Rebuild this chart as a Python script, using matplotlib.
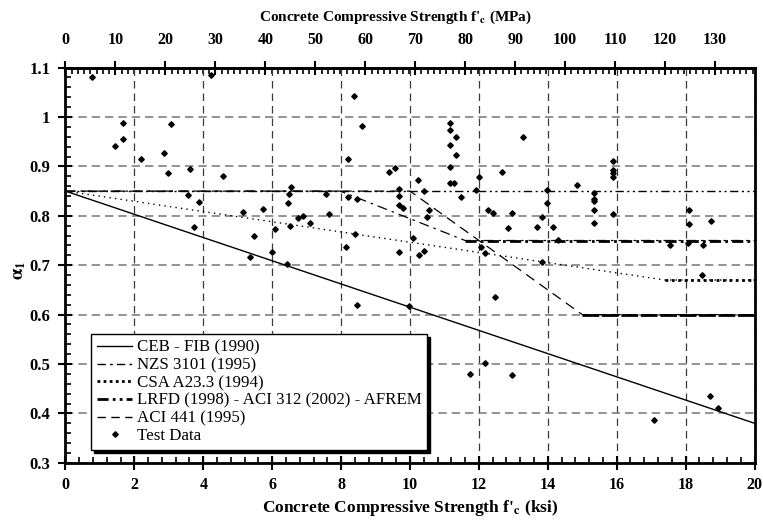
import matplotlib
matplotlib.use('Agg')
import matplotlib.pyplot as plt
from matplotlib.ticker import MultipleLocator, FuncFormatter, FixedLocator
from matplotlib.lines import Line2D

plt.rcParams['font.family'] = ['Liberation Serif', 'DejaVu Serif']
plt.rcParams['mathtext.fontset'] = 'stix'

# ---------------- data ----------------
KSI_TO_MPA = 6.895

ceb_x = [0, 20]
ceb_y = [0.85, 0.38]

nzs_x = [0, 7.98, 11.6, 20]
nzs_y = [0.85, 0.85, 0.75, 0.75]

csa_x = [0, 17.4, 20]
csa_y = [0.85, 0.67, 0.67]

lrfd_x = [0, 20]
lrfd_y = [0.85, 0.85]

aci441_x = [0, 10, 15, 20]
aci441_y = [0.85, 0.85, 0.60, 0.60]

test_fc = [0.76, 1.67, 1.67, 1.43, 2.18, 2.87, 3.05, 2.97, 3.61, 4.23, 4.57, 3.56, 3.88, 3.73,
           5.16, 5.73, 5.47, 6.07, 5.35, 5.99, 6.42, 6.55, 6.49, 6.47, 6.53, 6.76, 6.89, 7.09,
           7.55, 7.64, 8.38, 8.60, 8.20, 8.20, 8.46, 8.41, 8.14, 9.38, 9.56, 9.68, 9.68, 9.68,
           9.81, 9.69, 10.24, 10.40, 10.54, 10.50, 10.09, 10.26, 10.42, 11.17, 11.17, 11.33,
           11.17, 11.33, 11.17, 11.17, 11.28, 11.49, 11.99, 11.92, 12.27, 12.41, 12.05, 12.19,
           12.68, 12.96, 12.85, 13.27, 13.99, 13.99, 13.84, 13.69, 14.15, 14.30, 13.84, 14.84,
           15.34, 15.34, 15.34, 15.34, 15.34, 15.88, 15.88, 15.88, 15.88, 15.88, 17.54, 18.06,
           18.51, 18.09, 18.09, 18.74, 18.47, 8.45, 9.97, 12.48, 11.74, 12.18, 12.96, 17.08,
           18.71, 18.93]
test_alpha = [1.080, 0.987, 0.955, 0.941, 0.914, 0.927, 0.985, 0.886, 0.895, 1.085, 0.881, 0.842,
              0.827, 0.778, 0.807, 0.813, 0.760, 0.773, 0.716, 0.727, 0.702, 0.858, 0.845, 0.825,
              0.779, 0.795, 0.800, 0.786, 0.845, 0.803, 1.042, 0.982, 0.916, 0.839, 0.834, 0.763,
              0.737, 0.889, 0.897, 0.854, 0.841, 0.821, 0.816, 0.727, 0.872, 0.851, 0.811, 0.798,
              0.756, 0.721, 0.729, 0.987, 0.974, 0.959, 0.943, 0.924, 0.898, 0.866, 0.866, 0.838,
              0.879, 0.853, 0.811, 0.806, 0.737, 0.724, 0.889, 0.806, 0.776, 0.960, 0.853, 0.825,
              0.798, 0.777, 0.777, 0.751, 0.706, 0.862, 0.846, 0.835, 0.829, 0.812, 0.785, 0.911,
              0.893, 0.886, 0.879, 0.804, 0.741, 0.744, 0.741, 0.812, 0.783, 0.789, 0.680, 0.619,
              0.617, 0.636, 0.480, 0.502, 0.478, 0.386, 0.435, 0.410]

mpa_ticks = [0, 10, 20, 30, 40, 50, 60, 70, 80, 90, 100, 110, 120, 130]

labels = ['CEB - FIB (1990)', 'NZS 3101 (1995)', 'CSA A23.3 (1994)',
          'LRFD (1998) - ACI 312 (2002) - AFREM', 'ACI 441 (1995)', 'Test Data']

# ---------------- figure ----------------
fig = plt.figure(figsize=(7.63, 5.25), dpi=100)
ax = fig.add_axes([0.0858, 0.1185, 0.9031, 0.7527])

ax.set_xlim(0, 20)
ax.set_ylim(0.3, 1.1)

# grid
ax.xaxis.grid(True, which='major', color='#3a3a3a', lw=0.9, linestyle=(0, (6, 4)), zorder=0)
ax.yaxis.grid(True, which='major', color='#808080', lw=1.2, linestyle=(0, (5, 3)), zorder=0)

# design lines
ax.plot(lrfd_x, lrfd_y, color='k', lw=1.0, linestyle=(0, (6, 2.5, 1.5, 2.5, 1.5, 2.5)), zorder=3)
ax.plot(ceb_x, ceb_y, color='k', lw=1.0, linestyle='-', zorder=3)
ax.plot(nzs_x, nzs_y, color='k', lw=0.9, linestyle=(0, (8, 4, 2, 4)), zorder=3)
ax.plot(nzs_x[-2:], nzs_y[-2:], color='k', lw=2.0, linestyle=(0, (4, 1.5, 1, 1.5)), zorder=3)
ax.plot(csa_x, csa_y, color='k', lw=1.0, linestyle=(0, (1, 3)), zorder=3)
ax.plot(csa_x[-2:], csa_y[-2:], color='k', lw=2.0, linestyle=(0, (1, 1.3)), zorder=3)
ax.plot(aci441_x, aci441_y, color='k', lw=0.9, linestyle=(0, (8, 5)), zorder=3)
ax.plot(aci441_x[-2:], aci441_y[-2:], color='k', lw=2.0, linestyle=(0, (6, 1)), zorder=3)
ax.plot(test_fc, test_alpha, linestyle='none', marker='D', markersize=2.8,
        color='k', zorder=4)

# ticks
ax.xaxis.set_major_locator(MultipleLocator(2))
ax.xaxis.set_minor_locator(MultipleLocator(0.4))
ax.yaxis.set_major_locator(MultipleLocator(0.1))
ax.yaxis.set_minor_locator(MultipleLocator(0.02))
ax.yaxis.set_major_formatter(FuncFormatter(lambda v, p: '%g' % round(v, 2)))
ax.tick_params(which='major', direction='inout', length=10, width=1.5, labelsize=11.5,
               top=False, right=False)
ax.tick_params(which='minor', direction='in', length=4, width=1.2, top=False, right=False)
ax.tick_params(axis='x', which='major', pad=5)
ax.tick_params(axis='y', which='major', pad=6, labelsize=12)
for lab in ax.get_xticklabels() + ax.get_yticklabels():
    lab.set_fontweight('bold')

for s in ax.spines.values():
    s.set_linewidth(2.0)

sec = ax.secondary_xaxis('top', functions=(lambda k: k * KSI_TO_MPA, lambda m: m / KSI_TO_MPA))
sec.xaxis.set_major_locator(FixedLocator(mpa_ticks))
sec.xaxis.set_minor_locator(MultipleLocator(1.25))
sec.tick_params(which='major', direction='inout', length=10, width=1.5, labelsize=11.5, pad=9)
sec.tick_params(which='minor', direction='in', length=4, width=1.2)
sec.spines['top'].set_linewidth(2.0)
for lab in sec.get_xticklabels():
    lab.set_fontweight('bold')

# axis labels
fig.text(410 / 763, 1 - 508 / 525, r"Concrete Compressive Strength f'$_{\mathbf{c}}$ (ksi)",
         ha='center', va='center', fontsize=12.5, fontweight='bold')
fig.text(395 / 763, 1 - 17 / 525, r"Concrete Compressive Strength f'$_{\mathbf{c}}$ (MPa)",
         ha='center', va='center', fontsize=11, fontweight='bold')
fig.text(20 / 763, 1 - 270 / 525, r'$\mathbf{\alpha_1}$', ha='center', va='center',
         fontsize=13, rotation=90)

# legend
handles = [
    Line2D([], [], color='k', lw=1.0, linestyle='-'),
    Line2D([], [], color='k', lw=1.0, linestyle=(0, (6, 3, 2, 3))),
    Line2D([], [], color='k', lw=2.0, linestyle=(0, (1, 1.2))),
    Line2D([], [], color='k', lw=2.0, linestyle=(0, (4, 1.5, 1, 1.5, 1, 1.5))),
    Line2D([], [], color='k', lw=1.0, linestyle=(0, (6, 4))),
    Line2D([], [], color='k', linestyle='none', marker='D', markersize=2.8),
]
leg = ax.legend(handles, labels, loc='lower left', bbox_to_anchor=(0.037, 0.032),
                borderaxespad=0, fontsize=12.2, frameon=True, fancybox=False,
                shadow={'color': 'k', 'alpha': 1.0}, handlelength=2.1,
                handletextpad=0.25, labelspacing=0.1, borderpad=0.35)
leg.get_frame().set_edgecolor('k')
leg.get_frame().set_linewidth(1.0)
leg.get_frame().set_alpha(1.0)
leg.set_zorder(10)

fig.savefig('out.png', dpi=100)
